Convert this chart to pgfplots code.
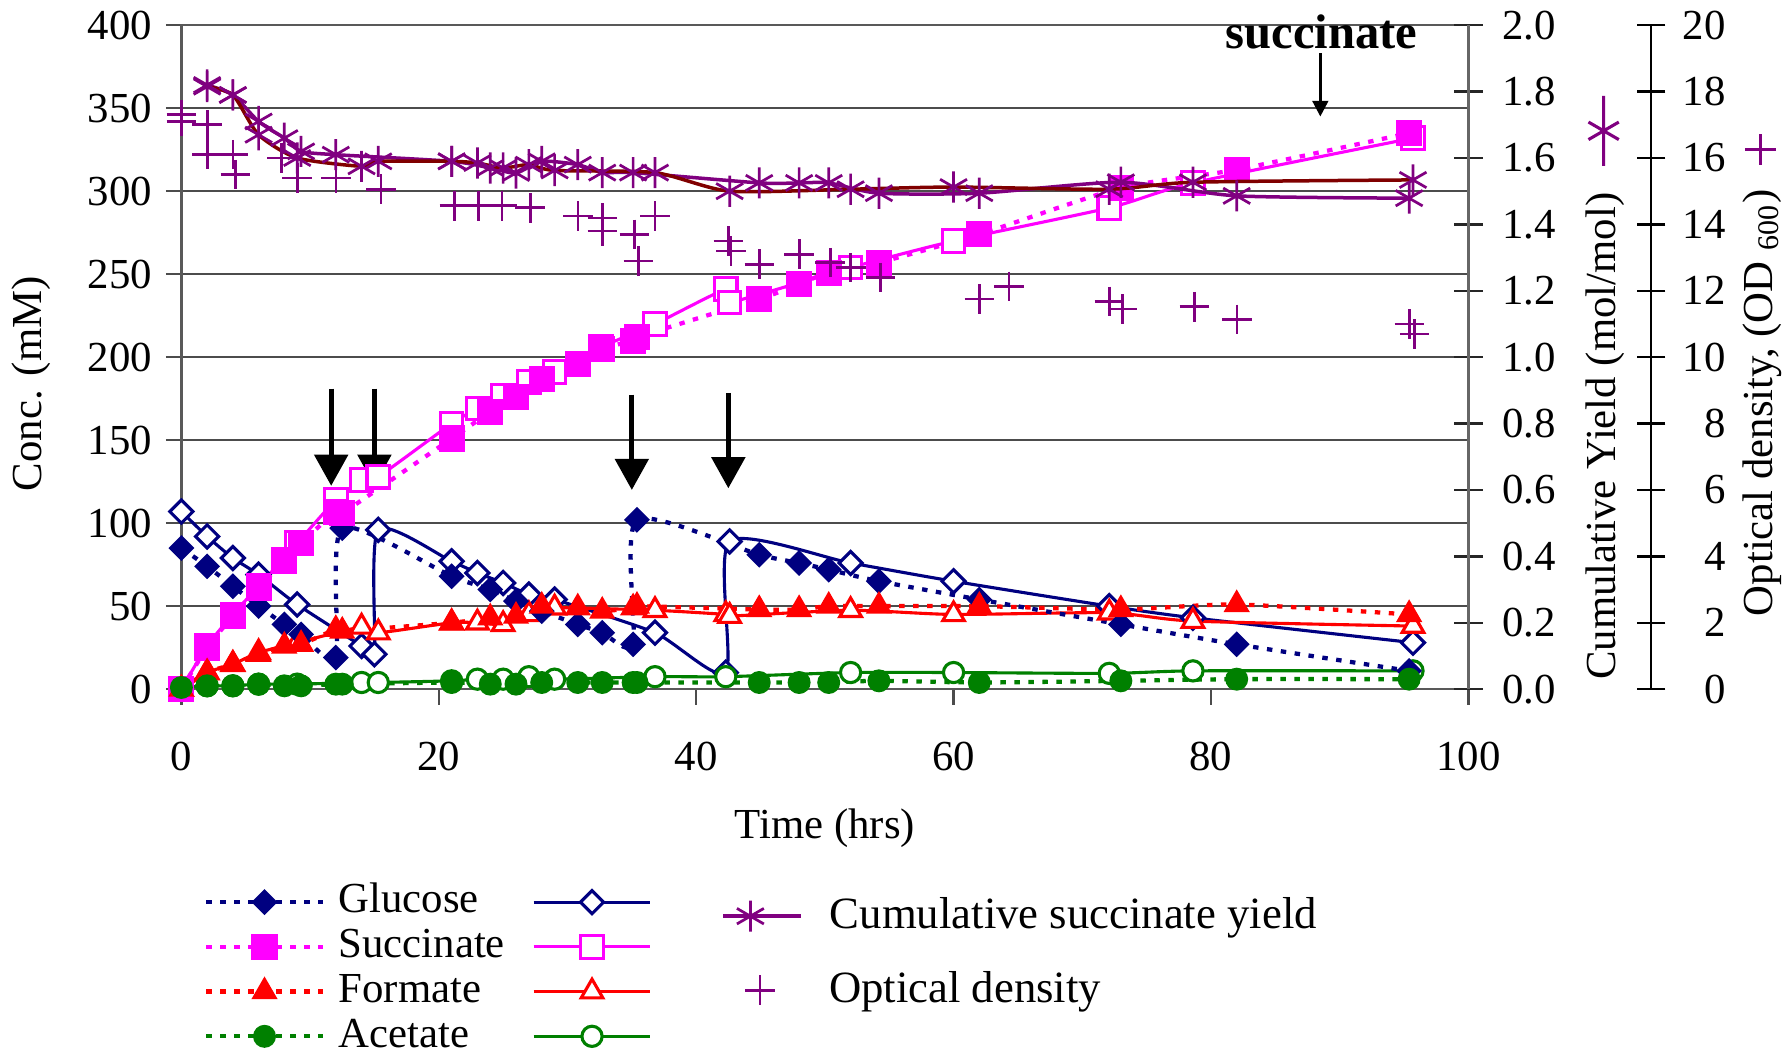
\documentclass[border=0pt]{standalone}
\usepackage{fontspec}
\setmainfont{Liberation Serif}
\usepackage{pgfplots}
\pgfplotsset{compat=1.18}
\usetikzlibrary{arrows.meta}
\definecolor{gnavy}{HTML}{000080}
\definecolor{smag}{HTML}{FF00FF}
\definecolor{fred}{HTML}{FF0000}
\definecolor{agreen}{HTML}{008000}
\definecolor{ypurple}{HTML}{800080}
\definecolor{ymaroon}{HTML}{800000}
\newcommand{\fs}{\fontsize{11}{13}\selectfont}
\newcommand{\fl}{\fontsize{11.5}{13}\selectfont}
\pgfplotsset{
  base/.style={scale only axis, width=330.9pt, height=170.7pt, xmin=0, xmax=100, ymin=0,
    clip=false, font=\fs, /pgf/number format/assume math mode=true},
  dotl/.style={line width=1.1pt, dash pattern=on 1.4pt off 2.2pt, smooth, tension=0.4},
  soll/.style={line width=0.8pt, smooth, tension=0.4},
  glf/.style={gnavy, dotl, mark=square*, mark size=2.1pt, mark options={solid, fill=gnavy, line width=0.5pt, rotate=45}},
  glh/.style={gnavy, soll, mark=square*, mark size=2.1pt, mark options={solid, fill=white, line width=0.8pt, rotate=45}},
  suf/.style={smag, dotl, mark=square*, mark size=3.1pt, mark options={solid, fill=smag, line width=0.5pt}},
  suh/.style={smag, soll, mark=square*, mark size=2.9pt, mark options={solid, fill=white, line width=0.8pt}},
  fof/.style={fred, dotl, mark=triangle*, mark size=3.4pt, mark options={solid, fill=fred, line width=0.5pt}},
  foh/.style={fred, soll, mark=triangle*, mark size=3.2pt, mark options={solid, fill=white, line width=0.8pt}},
  acf/.style={agreen, dotl, mark=*, mark size=2.7pt, mark options={solid, fill=agreen, line width=0.5pt}},
  ach/.style={agreen, soll, mark=*, mark size=2.6pt, mark options={solid, fill=white, line width=0.8pt}},
}
\begin{document}
\begin{tikzpicture}
% concentrations
\begin{axis}[base, name=main, ymax=400,
  xtick={0,20,40,60,80,100}, ytick={0,50,...,400},
  tick pos=left, tick align=outside, major tick length=4pt,
  ymajorgrids, major grid style={black!70, line width=0.4pt},
  axis line style={black!65, line width=0.6pt}, tick style={black!70, line width=0.6pt},
  xticklabel style={yshift=-6pt},
  xlabel={Time (hrs)}, ylabel={Conc. (mM)},
  xlabel style={at={(axis description cs:0.5,-0.21)}, anchor=center},
  ylabel style={at={(axis description cs:-0.117,0.46)}, anchor=center},
  legend columns=2, legend cell align=left,
  legend image code/.code={\draw[mark repeat=2,mark phase=2,#1] plot coordinates {(0pt,0pt)(15pt,0pt)(30pt,0pt)};},
  legend style={at={(axis description cs:0.017,-0.286)}, anchor=north west, draw=none, fill=none,
    inner sep=0pt, font=\fs, nodes={inner sep=1pt, text height=7.5pt, text depth=2pt},
    /tikz/every odd column/.append style={column sep=2.5pt},
    /tikz/every even column/.append style={column sep=6pt}},
]
\addplot[glh, forget plot] coordinates {(0,107)(2,92)(4,79)(6,69)(9,51)(14,26)(15,21)(15.3,96)(21,77)(23,70)(25,64)(27,57)(29,54)(36.8,34)(42.3,10)(42.6,89)(52,76)(60,65)(72.1,50)(78.6,43)(95.7,28)};
\addplot[suh, forget plot] coordinates {(0,0)(2,26)(4,45)(6,62)(9,88)(12,114)(14,126)(15.3,128)(21,160)(23,169)(25,177)(27,185)(29,191)(32.6,206)(36.8,220)(42.3,241)(42.6,233)(52,254)(60,270)(72.1,290)(78.6,305)(95.7,332)};
\addplot[foh, forget plot] coordinates {(0,0)(2,10)(4,15)(6,22)(9,28)(14,37.5)(15.3,34)(21,40)(23,40)(25,39)(27,45)(29,49)(36.8,47.5)(42.3,45)(42.6,44)(52,47.5)(60,45)(72.1,46)(78.6,41)(95.7,38)};
\addplot[ach, forget plot] coordinates {(0,1)(2,2)(4,2)(6,3)(9,3)(14,4)(15.3,4)(21,5)(23,6)(25,6)(27,7.5)(29,6)(36.8,7.5)(42.3,7.5)(52,10)(60,10)(72.1,9.5)(78.6,11)(95.7,11)};
\addplot[glf, forget plot] coordinates {(0,85)(2,74)(4,62)(6,50)(8,39)(9.3,33)(12,19)(12.5,97)(21,68)(24,60)(26,53)(28,47)(30.8,39)(32.7,34)(35.1,27)(35.4,102)(44.9,81)(48,76)(50.3,72)(54.2,65)(62,54)(73,39)(82,27)(95.4,11)};
\addplot[suf, forget plot] coordinates {(0,0)(2,25)(4,44)(6,61)(8,77.5)(9.3,88)(12,107)(12.5,106)(21,151)(24,167)(26,176)(28,187)(30.8,196)(32.7,205)(35.1,210)(35.4,212)(44.9,235)(48,244)(50.3,251)(54.2,257)(62,274)(73,302)(82,313)(95.4,335)};
\addplot[fof, forget plot] coordinates {(0,0)(2,10)(4,15)(6,21)(8,26)(9.3,27)(12,36)(12.5,35)(21,40)(24,43)(26,44)(28,50)(30.8,49)(32.7,47)(35.1,49)(35.4,50)(44.9,48)(48,48)(50.3,50)(54.2,50)(62,50)(73,48)(82,51)(95.4,45)};
\addplot[acf, forget plot] coordinates {(0,1)(2,2)(4,2)(6,3)(8,2)(9.3,2)(12,3)(12.5,3)(21,4)(24,3)(26,3)(28,4)(30.8,4)(32.7,4)(35.1,4)(35.4,4)(44.9,4)(48,4)(50.3,4)(54.2,5)(62,4)(73,5)(82,6)(95.4,6)};
\addlegendimage{glf}\addlegendentry{Glucose}
\addlegendimage{glh}\addlegendentry{}
\addlegendimage{suf}\addlegendentry{Succinate}
\addlegendimage{suh}\addlegendentry{}
\addlegendimage{fof}\addlegendentry{Formate}
\addlegendimage{foh}\addlegendentry{}
\addlegendimage{acf}\addlegendentry{Acetate}
\addlegendimage{ach}\addlegendentry{}
% feeding arrows
\draw[-{Triangle[length=8pt,width=8.5pt]}, line width=1.3pt] (axis cs:11.64,181) -- (axis cs:11.64,122.5);
\draw[-{Triangle[length=8pt,width=8.5pt]}, line width=1.3pt] (axis cs:15.0,181) -- (axis cs:15.0,122.5);
\draw[-{Triangle[length=8pt,width=8.5pt]}, line width=1.3pt] (axis cs:35.0,177.5) -- (axis cs:35.0,120);
\draw[-{Triangle[length=8pt,width=8.5pt]}, line width=1.3pt] (axis cs:42.5,178.5) -- (axis cs:42.5,121);
\node[font=\bfseries\fontsize{12.5}{14}\selectfont] at (axis cs:88.6,396) {succinate};
\draw[-{Triangle[length=4pt,width=4pt]}, line width=0.7pt] (axis cs:88.5,383) -- (axis cs:88.5,345);
\end{axis}
% cumulative yield
\begin{axis}[base, ymax=2, axis x line=none, axis y line*=right,
  ytick={0,0.2,0.4,0.6,0.8,1,1.2,1.4,1.6,1.8,2},
  yticklabels={0.0,0.2,0.4,0.6,0.8,1.0,1.2,1.4,1.6,1.8,2.0},
  tick align=center, major tick length=7.3pt,
  yticklabel style={xshift=1.5pt},
  axis line style={black!60, line width=0.6pt}, ytick style={black!85, line width=0.6pt},
  ylabel={Cumulative Yield (mol/mol)\hspace{6.5pt}\tikz[baseline=-0.6ex]{\draw[ypurple,line width=0.8pt] (-9pt,0)--(9pt,0) (60:4.5pt)--(240:4.5pt) (120:4.5pt)--(300:4.5pt);}},
  ylabel style={at={(axis description cs:1.1063,0.455)}, anchor=center},
  legend image code/.code={\draw[mark repeat=2,mark phase=2,#1] plot coordinates {(0pt,0pt)(7pt,0pt)(20pt,0pt)};},
  legend style={at={(axis description cs:0.419,-0.342)}, anchor=west, draw=none, fill=none,
    inner sep=0pt, font=\fl, nodes={inner sep=1pt},
    /tikz/every odd column/.append style={column sep=6pt}},
]
\addplot[ypurple, line width=0.9pt, smooth, tension=0.4, mark=asterisk, mark size=4pt, mark options={ypurple, line width=0.7pt}]
  coordinates {(2,1.82)(4,1.79)(6,1.71)(8,1.66)(9.3,1.62)(12,1.61)(21,1.59)(24,1.57)(26,1.555)(28,1.59)(30.8,1.58)(32.7,1.556)(35.1,1.556)(44.9,1.525)(48,1.525)(50.3,1.525)(54.2,1.494)(62,1.494)(73,1.527)(82,1.486)(95.4,1.479)};
\addlegendentry{Cumulative succinate yield}
\addplot[ymaroon, line width=0.9pt, smooth, tension=0.4, mark=asterisk, mark size=4pt, mark options={ypurple, line width=0.7pt}, forget plot]
  coordinates {(2,1.815)(4,1.79)(6,1.67)(9,1.60)(14,1.575)(15.3,1.59)(21,1.59)(23,1.585)(25,1.57)(27,1.58)(29,1.5625)(36.8,1.556)(42.6,1.50)(52,1.506)(60,1.5125)(72.1,1.506)(78.6,1.527)(95.7,1.534)};
\end{axis}
% optical density
\begin{axis}[scale only axis, width=377.9pt, height=170.7pt, xmin=0, xmax=114.18, ymin=0, ymax=20,
  clip=false, font=\fs, /pgf/number format/assume math mode=true,
  axis x line=none, axis y line*=right, ytick={0,2,...,20},
  tick align=center, major tick length=7.3pt,
  axis line style={black, line width=0.6pt}, ytick style={black, line width=0.6pt},
  yticklabel style={text width=12pt, align=right},
  ylabel={Optical density, (OD \textsubscript{600})\hspace{6pt}\tikz[baseline=-0.6ex]{\draw[ypurple,line width=0.8pt] (-3.9pt,0)--(3.9pt,0) (0,-3.9pt)--(0,3.9pt);}},
  ylabel style={at={(axis description cs:1.0754,0.474)}, anchor=center},
  legend style={at={(axis description cs:0.383,-0.4536)}, anchor=west, draw=none, fill=none,
    inner sep=0pt, font=\fl, nodes={inner sep=1pt},
    /tikz/every odd column/.append style={column sep=13pt}},
]
\addplot[only marks, mark=+, mark size=3.8pt, ypurple, mark options={line width=0.7pt}]
  coordinates {(0,17.3)(0,17.1)(2,17.0)(2,16.1)(4,16.1)(4.2,15.5)(7.8,16.0)(9,15.4)(12,15.4)(15.5,15.06)(21.2,14.56)(23.1,14.56)(24.9,14.56)(27.1,14.5)(30.8,14.25)(32.7,14.19)(32.7,13.8)(35.2,13.7)(35.5,12.9)(36.8,14.25)(42.5,13.5)(42.7,13.2)(44.9,12.8)(48,13.1)(50.4,12.85)(52,12.7)(54.3,12.4)(62,11.75)(64.3,12.13)(72.1,11.68)(73.1,11.45)(78.7,11.52)(82,11.14)(95.4,11.0)(95.8,10.7)};
\addlegendentry{Optical density}
\end{axis}
\pgfresetboundingbox
\useasboundingbox (-46.64pt,-93.0pt) rectangle (413.35pt,177.19pt);
\end{tikzpicture}
\end{document}
